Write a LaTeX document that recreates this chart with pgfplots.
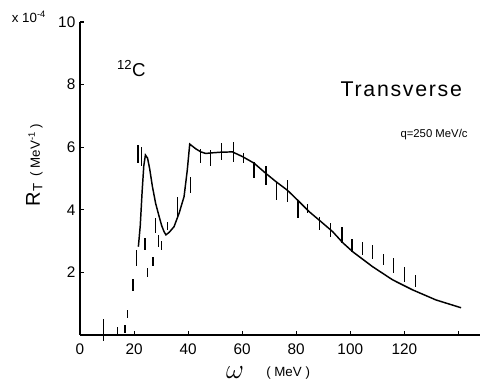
\documentclass[border=0pt]{standalone}
\usepackage{fontspec}
\setmainfont{Liberation Sans}
\usepackage{pgfplots}
\pgfplotsset{compat=1.18}
\pgfplotstableread{
x y e
8.6 0.15 0.35
13.8 0.12 0.13
16.7 0.18 0.13
17.5 0.68 0.13
19.6 1.6 0.2
20.9 2.45 0.25
21.5 5.78 0.29
22.8 5.7 0.3
24.1 2.9 0.2
24.9 2.0 0.15
27.0 2.35 0.15
28.0 3.5 0.25
29.0 3.0 0.2
30.1 2.85 0.15
32.3 3.48 0.13
36.0 4.08 0.33
41.0 4.8 0.25
44.7 5.72 0.23
48.4 5.65 0.25
52.3 5.86 0.27
56.7 5.85 0.31
60.5 5.65 0.15
64.4 5.27 0.27
68.8 5.1 0.31
72.7 4.58 0.27
76.8 4.6 0.34
80.7 4.02 0.29
84.1 4.05 0.15
88.5 3.56 0.21
92.8 3.36 0.22
96.9 3.2 0.25
100.6 2.86 0.22
104.6 2.77 0.21
108.3 2.65 0.23
112.3 2.42 0.18
116.0 2.21 0.24
120.0 1.94 0.24
124.1 1.72 0.2
}\databars
\begin{document}
\begin{tikzpicture}
\path[use as bounding box] (-60pt,-36.75pt) rectangle (300pt,251.25pt);
\begin{axis}[
 at={(0,0)}, anchor=south west,
 scale only axis, width=300pt, height=234.75pt,
 xmin=0, xmax=148, ymin=0, ymax=10,
 axis x line=bottom, axis y line=left,
 axis line style={-, line width=1pt},
 xtick={0,20,40,60,80,100,120,140},
 xticklabels={0,20,40,60,80,100,120,{}},
 ytick={2,4,6,8,10},
 tick align=inside, major tick length=3pt,
 tick style={line width=0.8pt, black},
 ticklabel style={font=\fontsize{11.5}{11.5}\selectfont},
 xticklabel style={yshift=-3pt},
 /pgf/number format/assume math mode=true,
 clip=false,
]
\addplot[draw=none, mark=none, forget plot,
  error bars/.cd, y dir=both, y explicit, error mark=none,
  error bar style={draw=black, solid, line width=1pt}]
  table[x=x, y=y, y error=e] {\databars};
\addplot[black, line width=1.1pt, mark=none] coordinates {
(21.6,2.82)(22.3,3.5)(23.0,4.6)(23.6,5.4)(24.2,5.75)(25.0,5.65)(25.8,5.3)
(26.8,4.74)(28,4.2)(29.3,3.78)(30.2,3.5)(31.1,3.3)(31.8,3.2)(33,3.28)
(34.8,3.46)(36.7,3.9)(38.5,4.42)(39.7,5.27)(40.6,6.1)(42.8,5.95)(44.7,5.85)
(46.5,5.8)(49,5.82)(52.1,5.84)(56.4,5.85)(60.1,5.7)(64.4,5.49)(68.8,5.16)
(72.5,4.9)(76.8,4.62)(80.5,4.31)(84.8,3.94)(88.5,3.67)(93.5,3.3)(97.2,2.95)
(100.9,2.66)(108.3,2.18)(115.7,1.76)(123.1,1.44)(131.7,1.12)(141,0.87)
};
\node[font=\fontsize{10}{10}\selectfont] at (axis cs:-18.9,10.16) {x 10\textsuperscript{-4}};
\node[font=\fontsize{14}{14}\selectfont] at (axis cs:19,8.5) {\textsuperscript{12}C};
\node[font=\fontsize{16}{16}\selectfont\addfontfeatures{LetterSpace=8}] at (axis cs:118.9,7.86) {Transverse};
\node[font=\fontsize{8.5}{8.5}\selectfont] at (axis cs:131,6.4) {q=250 MeV/c};
\node[rotate=90] at (axis cs:-16.9,5.43) {{\fontsize{15}{15}\selectfont R\raisebox{-2pt}{\fontsize{10}{10}\selectfont T}}\ \ {\fontsize{10}{10}\selectfont ( MeV\textsuperscript{-1} )}};
\node[font=\fontsize{20}{20}\selectfont] at (axis cs:57.4,-1.2) {$\omega$};
\node[font=\fontsize{10}{10}\selectfont] at (axis cs:77,-1.2) {( MeV )};
\end{axis}
\end{tikzpicture}
\end{document}
